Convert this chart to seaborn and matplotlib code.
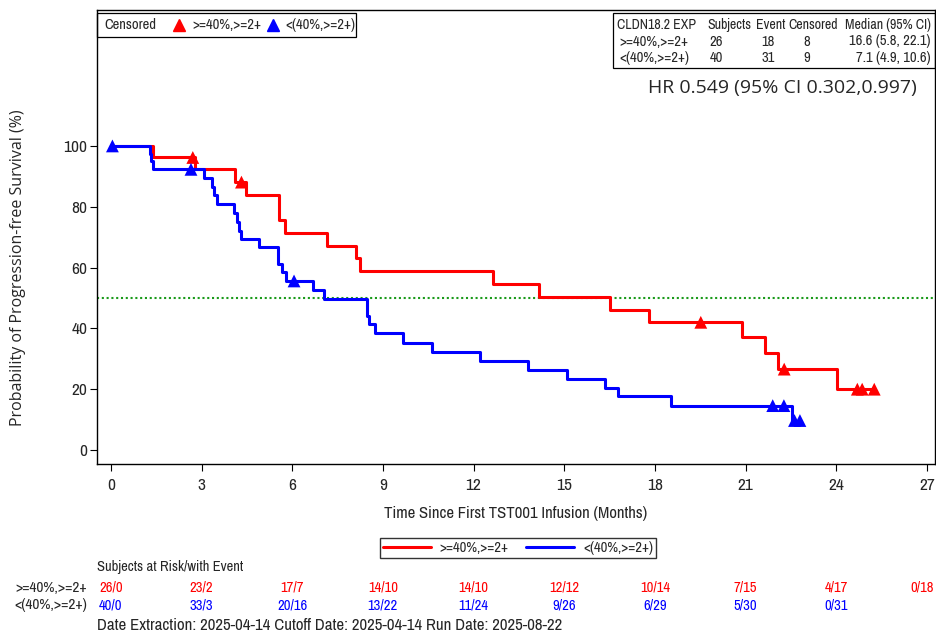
import numpy as np
import pandas as pd
import matplotlib
matplotlib.use("Agg")
import matplotlib.pyplot as plt
import seaborn as sns
from matplotlib.lines import Line2D
from matplotlib.patches import Rectangle
from matplotlib.transforms import blended_transform_factory

# ---------------- data ----------------
grp_hi = ">=40%,>=2+"
grp_lo = "<(40%,>=2+)"

hi_times = [0, 1.38, 2.78, 4.10, 4.46, 5.57, 5.76, 7.14, 8.11, 8.24, 12.63, 14.17,
            16.53, 17.81, 20.87, 21.64, 22.08, 24.02, 25.26]
hi_surv = [100, 96.2, 92.3, 88.1, 84.0, 75.6, 71.4, 67.2, 63.0, 58.8, 54.6, 50.4,
           46.2, 42.0, 37.3, 32.0, 26.6, 20.0, 20.0]
hi_cens_t = [2.71, 4.32, 19.52, 22.28, 24.70, 24.86, 25.26]
hi_cens_s = [96.2, 88.1, 42.0, 26.6, 20.0, 20.0, 20.0]

lo_times = [0, 1.31, 1.34, 1.38, 3.09, 3.33, 3.42, 3.52, 4.08, 4.16, 4.24, 4.32, 4.90,
            5.52, 5.65, 5.78, 6.70, 7.06, 8.49, 8.55, 8.74, 9.65, 10.61, 12.21, 13.81,
            15.10, 16.35, 16.79, 18.53, 22.55, 22.80]
lo_surv = [100, 97.4, 94.9, 92.3, 89.4, 86.6, 83.7, 80.8, 77.9, 75.0, 72.1, 69.3, 66.6,
           61.2, 58.4, 55.6, 52.7, 49.8, 44.2, 41.4, 38.6, 35.3, 32.1, 29.4, 26.4,
           23.5, 20.5, 17.6, 14.6, 9.7, 9.7]
lo_cens_t = [0.05, 2.65, 6.06, 21.90, 22.27, 22.62, 22.80]
lo_cens_s = [100, 92.3, 55.6, 14.6, 14.6, 9.7, 9.7]

tick_months = [0, 3, 6, 9, 12, 15, 18, 21, 24, 27]
risk_hi = ["26/0", "23/2", "17/7", "14/10", "14/10", "12/12", "10/14", "7/15", "4/17", "0/18"]
risk_lo = ["40/0", "33/3", "20/16", "13/22", "11/24", "9/26", "6/29", "5/30", "0/31"]

tbl_header = ["CLDN18.2 EXP", "Subjects", "Event", "Censored", "Median (95% CI)"]
tbl_hi = [grp_hi, "26", "18", "8", "16.6 (5.8, 22.1)"]
tbl_lo = [grp_lo, "40", "31", "9", "7.1 (4.9, 10.6)"]
hr_text = "HR 0.549 (95% CI 0.302,0.997)"
date_text = "Date Extraction: 2025-04-14 Cutoff Date: 2025-04-14 Run Date: 2025-08-22"

RED = "#ff0000"
BLUE = "#0000ff"

# ---------------- style ----------------
sns.set_theme(style="white")
NARROW = ["Archivo Narrow", "DejaVu Sans"]
REG = ["Open Sans", "DejaVu Sans"]
plt.rcParams["font.family"] = NARROW

W, H = 937, 633
fx = lambda px: px / W
fy = lambda py: 1 - py / H

fig = plt.figure(figsize=(W / 100, H / 100), dpi=100)
ax = fig.add_axes([fx(97), fy(464), (935 - 97) / W, (464 - 10) / H])

df_line = pd.concat([
    pd.DataFrame({"t": hi_times, "s": hi_surv, "g": grp_hi}),
    pd.DataFrame({"t": lo_times, "s": lo_surv, "g": grp_lo}),
])
df_cens = pd.concat([
    pd.DataFrame({"t": hi_cens_t, "s": hi_cens_s, "g": grp_hi}),
    pd.DataFrame({"t": lo_cens_t, "s": lo_cens_s, "g": grp_lo}),
])
pal = {grp_hi: RED, grp_lo: BLUE}

sns.lineplot(data=df_line, x="t", y="s", hue="g", palette=pal, estimator=None,
             sort=False, drawstyle="steps-post", linewidth=2.2, legend=False, ax=ax)
ax.axhline(50, color="#1a9a1a", linestyle=(0, (1, 1.3)), linewidth=1.5, zorder=1)
sns.scatterplot(data=df_cens, x="t", y="s", hue="g", palette=pal, marker="^",
                s=85, linewidth=0, legend=False, ax=ax, zorder=5)

ax.set_xlim(-0.46, 27.27)
ax.set_ylim(-4.6, 144.7)
ax.set_xticks(tick_months)
ax.set_yticks([0, 20, 40, 60, 80, 100])
ax.tick_params(axis="both", which="major", direction="out", length=5, width=0.8,
               color="black", labelsize=12.5, bottom=True, left=True)
ax.tick_params(axis="x", pad=5)
ax.tick_params(axis="y", pad=2)
for sp in ax.spines.values():
    sp.set_color("black")
    sp.set_linewidth(1.0)
ax.set_xlabel("Time Since First TST001 Infusion (Months)", fontsize=12)
ax.xaxis.set_label_coords(0.5, (464 - 506) / (464 - 10))
ax.set_ylabel("Probability of Progression-free Survival (%)", fontsize=11.5,
              family=REG)
ax.yaxis.set_label_coords((26 - 97) / (935 - 97), (464 - 268) / (464 - 10))

# top-left censored legend (drawn as box + text + symbols)
fig.patches.append(Rectangle((fx(97), fy(37)), (356 - 97) / W, (37 - 13) / H,
                             transform=fig.transFigure, fill=False,
                             edgecolor="black", linewidth=0.9, zorder=10))
fig.text(fx(104), fy(25), "Censored", ha="left", va="center", fontsize=10.5)
fig.add_artist(Line2D([fx(179)], [fy(25)], transform=fig.transFigure, marker="^",
                      color=RED, markersize=9, linestyle="none"))
fig.text(fx(192), fy(25), grp_hi, ha="left", va="center", fontsize=10.5)
fig.add_artist(Line2D([fx(273)], [fy(25)], transform=fig.transFigure, marker="^",
                      color=BLUE, markersize=9, linestyle="none"))
fig.text(fx(285), fy(25), grp_lo, ha="left", va="center", fontsize=10.5)

# top-right table
fig.patches.append(Rectangle((fx(613), fy(68)), fx(935) - fx(613), (68 - 13) / H,
                             transform=fig.transFigure, fill=False,
                             edgecolor="black", linewidth=0.9))
hdr_x = [617, 729, 771, 813, 931]
val_x = [619, 716, 768, 807, 931]
col_ha = ["left", "center", "center", "center", "right"]
for j, txt in enumerate(tbl_header):
    fig.text(fx(hdr_x[j]), fy(25), txt, ha=col_ha[j], va="center", fontsize=10)
for row, yy in [(tbl_hi, 41.5), (tbl_lo, 58)]:
    for j, txt in enumerate(row):
        fig.text(fx(val_x[j]), fy(yy), txt, ha=col_ha[j], va="center", fontsize=10.5)

fig.text(fx(648), fy(88), hr_text, ha="left", va="center", fontsize=14, family=REG)

# bottom legend
lh = [Line2D([], [], color=RED, lw=2.2), Line2D([], [], color=BLUE, lw=2.2)]
fig.legend(lh, [grp_hi, grp_lo], loc="center", bbox_to_anchor=(fx(518), fy(548)),
           ncol=2, frameon=True, fancybox=False, edgecolor="black", fontsize=10.5,
           handlelength=3.3, handletextpad=0.6, columnspacing=1.2, borderpad=0.2)

# risk table
fig.text(fx(97), fy(567), "Subjects at Risk/with Event", ha="left", va="center",
         fontsize=10.5)
fig.text(fx(87), fy(588), grp_hi, ha="right", va="center", fontsize=11)
fig.text(fx(87), fy(605), grp_lo, ha="right", va="center", fontsize=11)
tr = blended_transform_factory(ax.transData, fig.transFigure)
xmax = ax.get_xlim()[1]


def risk_text(t, yy, lab, color):
    if t >= tick_months[-1]:
        ax.text(xmax - 0.05, yy, lab, transform=tr, ha="right", va="center",
                fontsize=10.5, color=color, clip_on=False)
    else:
        ax.text(t, yy, lab, transform=tr, ha="center", va="center", fontsize=10.5,
                color=color, clip_on=False)


for t, lab in zip(tick_months, risk_hi):
    risk_text(t, fy(588), lab, RED)
for t, lab in zip(tick_months, risk_lo):
    risk_text(t, fy(605), lab, BLUE)

fig.text(fx(97), fy(625), date_text, ha="left", va="center", fontsize=12.1)

fig.savefig("out.png", dpi=100)
